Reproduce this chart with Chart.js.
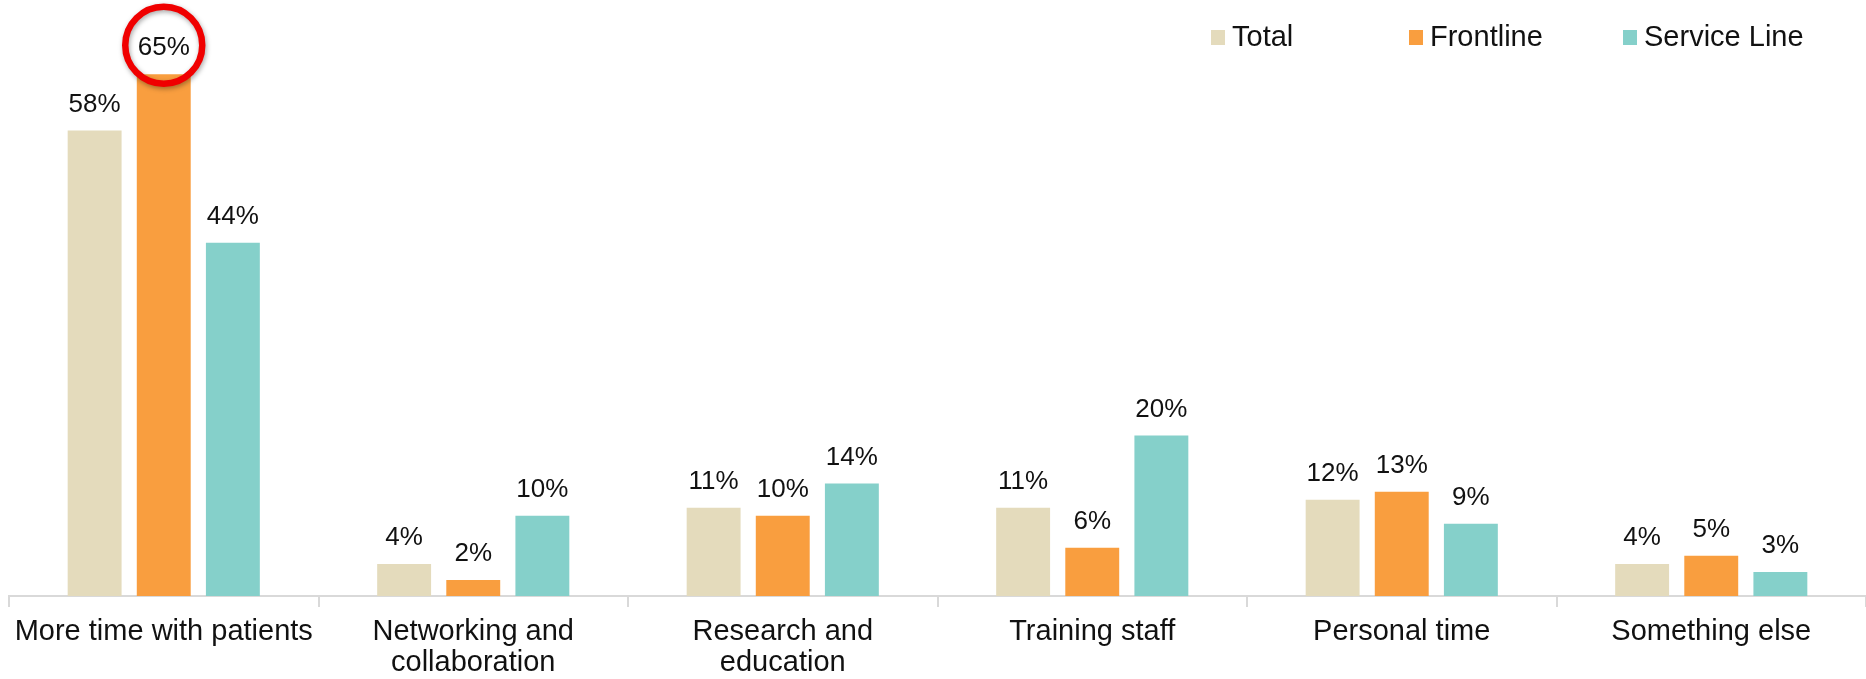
<!DOCTYPE html>
<html>
<head>
<meta charset="utf-8">
<script src="https://cdn.jsdelivr.net/npm/chart.js@4.4.0/dist/chart.umd.min.js"></script>
<style>
  html, body { margin: 0; padding: 0; background: #fff; }
  #wrap { position: relative; width: 1866px; height: 679px; }
</style>
</head>
<body>
<div id="wrap"><canvas id="chart"></canvas></div>
<script>
const categories = [
  'More time with patients',
  ['Networking and', 'collaboration'],
  ['Research and', 'education'],
  'Training staff',
  'Personal time',
  'Something else'
];
const totalValues = [58, 4, 11, 11, 12, 4];
const frontlineValues = [65, 2, 10, 6, 13, 5];
const serviceLineValues = [44, 10, 14, 20, 9, 3];
const seriesNames = ['Total', 'Frontline', 'Service Line'];
const seriesColors = ['#E4DBBC', '#F99E3F', '#85D0CA'];

const FONT = '"Liberation Sans", Arial, sans-serif';

// value labels above each bar
const valueLabels = {
  id: 'valueLabels',
  afterDatasetsDraw(chart) {
    const ctx = chart.ctx;
    ctx.save();
    ctx.font = '26px ' + FONT;
    ctx.fillStyle = '#111';
    ctx.textAlign = 'center';
    ctx.textBaseline = 'middle';
    chart.data.datasets.forEach((ds, i) => {
      chart.getDatasetMeta(i).data.forEach((bar, j) => {
        ctx.fillText(ds.data[j] + '%', bar.x, bar.y - 26);
      });
    });
    ctx.restore();
  }
};

// red ring around the highest frontline value
const highlight = {
  id: 'highlight',
  afterDraw(chart) {
    const bar = chart.getDatasetMeta(1).data[0];
    if (!bar) return;
    const ctx = chart.ctx;
    ctx.save();
    ctx.shadowColor = 'rgba(0,0,0,0.35)';
    ctx.shadowBlur = 5;
    ctx.shadowOffsetX = 1;
    ctx.shadowOffsetY = 2;
    ctx.strokeStyle = '#F00000';
    ctx.lineWidth = 6.5;
    ctx.beginPath();
    ctx.arc(bar.x, bar.y - 29, 38.5, 0, Math.PI * 2);
    ctx.stroke();
    ctx.restore();
  }
};

// legend in the top right corner
const topLegend = {
  id: 'topLegend',
  afterDraw(chart) {
    const ctx = chart.ctx;
    const xs = [1211, 1409, 1623];
    ctx.save();
    ctx.font = '29px ' + FONT;
    ctx.textBaseline = 'middle';
    ctx.textAlign = 'left';
    seriesNames.forEach((name, i) => {
      ctx.fillStyle = seriesColors[i];
      ctx.fillRect(xs[i], 30, 14, 15);
      ctx.fillStyle = '#111';
      ctx.fillText(name, xs[i] + 21, 38);
    });
    ctx.restore();
  }
};

new Chart(document.getElementById('chart'), {
  type: 'bar',
  data: {
    labels: categories,
    datasets: [
      { label: seriesNames[0], data: totalValues, backgroundColor: seriesColors[0] },
      { label: seriesNames[1], data: frontlineValues, backgroundColor: seriesColors[1] },
      { label: seriesNames[2], data: serviceLineValues, backgroundColor: seriesColors[2] }
    ]
  },
  options: {
    responsive: true,
    maintainAspectRatio: false,
    animation: false,
    layout: { padding: { left: 9, right: 0, top: 18, bottom: 0 } },
    datasets: {
      bar: { categoryPercentage: 0.67, barPercentage: 0.78 }
    },
    plugins: {
      legend: { display: false },
      tooltip: { enabled: false }
    },
    scales: {
      x: {
        grid: {
          display: true,
          drawOnChartArea: false,
          offset: true,
          color: '#D9D9D9',
          lineWidth: 2,
          tickLength: 11,
          tickColor: '#D9D9D9'
        },
        border: { display: true, color: '#D9D9D9', width: 2 },
        ticks: {
          color: '#111',
          padding: 9,
          maxRotation: 0,
          autoSkip: false,
          font: { family: FONT, size: 29, lineHeight: 1.07 }
        },
        afterFit(scale) { scale.height = 83; }
      },
      y: {
        display: false,
        min: 0,
        max: 72
      }
    }
  },
  plugins: [valueLabels, highlight, topLegend]
});
</script>
</body>
</html>
